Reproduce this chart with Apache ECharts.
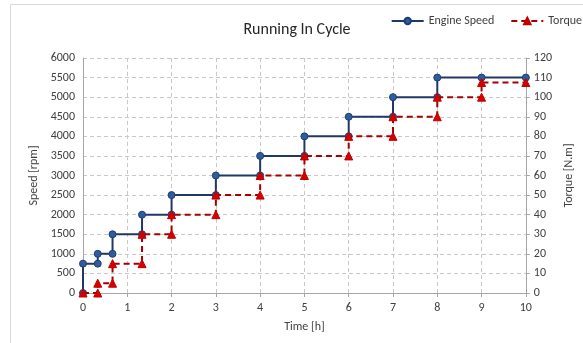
<!DOCTYPE html>
<html>
<head>
<meta charset="utf-8">
<script src="https://cdn.jsdelivr.net/npm/echarts@6/dist/echarts.min.js"></script>
<style>html,body{margin:0;padding:0;background:#fff;}#c{width:583px;height:343px;}</style>
</head>
<body>
<div id="c"></div>
<script>
var speedTime = [0, 0, 0.333, 0.333, 0.667, 0.667, 1.333, 1.333, 2, 2, 3, 3, 4, 4, 5, 5, 6, 6, 7, 7, 8, 8, 9, 10];
var speedValues = [0, 750, 750, 1000, 1000, 1500, 1500, 2000, 2000, 2500, 2500, 3000, 3000, 3500, 3500, 4000, 4000, 4500, 4500, 5000, 5000, 5500, 5500, 5500];
var torqueTime = [0, 0.333, 0.333, 0.667, 0.667, 1.333, 1.333, 2, 2, 3, 3, 4, 4, 5, 5, 6, 6, 7, 7, 8, 8, 9, 9, 10];
var torqueValues = [0, 0, 5, 5, 15, 15, 30, 30, 40, 40, 50, 50, 60, 60, 70, 70, 80, 80, 90, 90, 100, 100, 107.5, 107.5];
var xTicks = [0, 10, 1];
var speedTicks = [0, 6000, 500];
var torqueTicks = [0, 120, 10];

function pairs(xs, ys) { return xs.map(function (x, i) { return [x, ys[i]]; }); }
function plain(v) { return String(v); }

var font = 'Calibri, Carlito, Lato, "Liberation Sans", sans-serif';
var chart = echarts.init(document.getElementById('c'));
var gridLine = { show: true, lineStyle: { color: '#C8C8C8', type: [4, 3], width: 1 } };
var txt = '#404040';
chart.setOption({
  animation: false,
  textStyle: { fontFamily: font },
  graphic: [{
    type: 'rect', shape: { x: 10.5, y: 4.5, width: 700, height: 500 },
    style: { fill: 'none', stroke: '#D9D9D9', lineWidth: 1 }, silent: true, z: -10
  }],
  title: {
    text: 'Running In Cycle', left: 292, top: 17, textAlign: 'center',
    textStyle: { fontSize: 16, fontWeight: 'normal', color: '#262626', fontFamily: font }
  },
  legend: {
    right: -4, top: 10, itemGap: 16, itemWidth: 32, itemHeight: 8,
    textStyle: { fontSize: 12, color: txt, fontFamily: font },
    data: ['Engine Speed', 'Torque']
  },
  grid: { left: 83, right: 55, top: 58, bottom: 50, containLabel: false },
  xAxis: {
    type: 'value', min: xTicks[0], max: xTicks[1], interval: xTicks[2],
    name: 'Time [h]', nameLocation: 'middle', nameGap: 28,
    nameTextStyle: { fontSize: 12, color: txt, fontFamily: font },
    axisLine: { show: true, lineStyle: { color: '#A6A6A6' } },
    axisTick: { show: true, length: 4, lineStyle: { color: '#A6A6A6' } },
    axisLabel: { fontSize: 12, color: txt, margin: 9, formatter: plain },
    splitLine: gridLine
  },
  yAxis: [{
    type: 'value', min: speedTicks[0], max: speedTicks[1], interval: speedTicks[2],
    name: 'Speed [rpm]', nameLocation: 'middle', nameGap: 37, nameRotate: 90,
    nameTextStyle: { fontSize: 12, color: txt, fontFamily: font },
    axisLine: { show: true, onZero: false, lineStyle: { color: '#A6A6A6' } },
    axisTick: { show: false },
    axisLabel: { fontSize: 12, color: txt, margin: 8, formatter: plain },
    splitLine: gridLine
  }, {
    type: 'value', min: torqueTicks[0], max: torqueTicks[1], interval: torqueTicks[2],
    name: 'Torque [N.m]', nameLocation: 'middle', nameGap: 34, nameRotate: 90,
    nameTextStyle: { fontSize: 12, color: txt, fontFamily: font },
    position: 'right',
    axisLine: { show: true, onZero: false, lineStyle: { color: '#A6A6A6' } },
    axisTick: { show: true, length: 4, lineStyle: { color: '#A6A6A6' } },
    axisLabel: { fontSize: 12, color: txt, margin: 8, formatter: plain },
    splitLine: { show: false }
  }],
  series: [{
    name: 'Engine Speed', type: 'line', yAxisIndex: 0,
    data: pairs(speedTime, speedValues),
    symbol: 'circle', symbolSize: 7,
    lineStyle: { color: '#203864', width: 2 },
    itemStyle: { color: '#2E5C9E', borderColor: '#1F3E70', borderWidth: 1 },
    z: 3
  }, {
    name: 'Torque', type: 'line', yAxisIndex: 1,
    data: pairs(torqueTime, torqueValues),
    symbol: 'triangle', symbolSize: 8,
    lineStyle: { color: '#A50000', width: 2, type: [6, 4] },
    itemStyle: { color: '#D60000', borderColor: '#C00000', borderWidth: 1 },
    z: 4
  }]
});
</script>
</body>
</html>
